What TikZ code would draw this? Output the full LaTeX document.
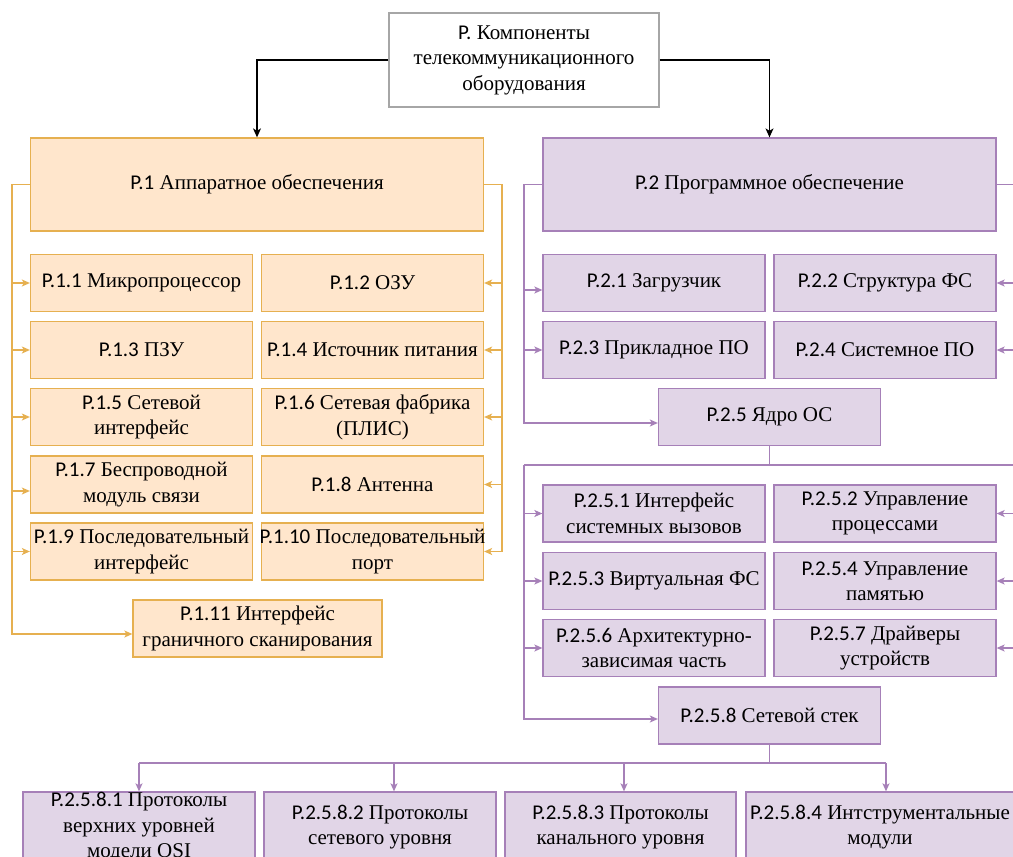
\documentclass[tikz,border=0pt]{standalone}
\usepackage{fontspec}
\setmainfont{Liberation Serif}
\newfontfamily\codefont{Carlito}
\usetikzlibrary{arrows.meta}
\newcommand\pc[1]{{\codefont #1}}
\newcommand\fitline[1]{\makebox[200pt][c]{#1}}
\definecolor{orgfill}{HTML}{FFE6CC}
\definecolor{orgline}{HTML}{E6B050}
\definecolor{purfill}{HTML}{E1D5E7}
\definecolor{purline}{HTML}{A680B8}
\definecolor{grayline}{HTML}{A6A6A6}
\begin{document}
\begin{tikzpicture}[x=1pt,y=-1pt,
  font=\fontsize{21}{25.5}\selectfont,
  box/.style={draw, line width=1.3pt, align=center, inner sep=0pt},
  hw/.style={box, fill=orgfill, draw=orgline},
  sw/.style={box, fill=purfill, draw=purline},
  rootbox/.style={box, fill=white, draw=grayline, line width=1.2pt},
  half/.style={minimum width=222pt, minimum height=57pt},
  wide/.style={minimum width=453pt, minimum height=93pt},
  blk/.style={draw=black, line width=1.2pt, -{Stealth[length=9pt,width=8pt,inset=2.5pt]}},
  ocon/.style={draw=orgline, line width=1.2pt},
  oarr/.style={ocon, -{Stealth[length=8pt,width=7pt,inset=2pt]}},
  pcon/.style={draw=purline, line width=1.2pt},
  parr/.style={pcon, -{Stealth[length=8pt,width=7pt,inset=2pt]}}
]
\path[use as bounding box, clip] (0,0) rectangle (1013,857);

% root
\node[rootbox, minimum width=270pt, minimum height=94pt] (root) at (524,60)
  {\pc{P.} Компоненты\\телекоммуникационного\\оборудования};

% hardware branch
\node[hw, wide] (p1) at (257,184.5) {\pc{P.1} Аппаратное обеспечения};
\node[hw, half] (p11) at (141.5,283) {\pc{P.1.1} Микропроцессор};
\node[hw, half] (p12) at (372.5,283) {\pc{P.1.2} ОЗУ};
\node[hw, half] (p13) at (141.5,350) {\pc{P.1.3} ПЗУ};
\node[hw, half] (p14) at (372.5,350) {\pc{P.1.4} Источник питания};
\node[hw, half] (p15) at (141.5,417) {\pc{P.1.5} Сетевой\\интерфейс};
\node[hw, half] (p16) at (372.5,417) {\pc{P.1.6} Сетевая фабрика\\(ПЛИС)};
\node[hw, half] (p17) at (141.5,484.5) {\pc{P.1.7} Беспроводной\\модуль связи};
\node[hw, half] (p18) at (372.5,484.5) {\pc{P.1.8} Антенна};
\node[hw, half] (p19) at (141.5,551.5) {\fitline{\pc{P.1.9} Последовательный}\\интерфейс};
\node[hw, half] (p110) at (372.5,551.5) {\fitline{\pc{P.1.10} Последовательный}\\порт};
\node[hw, minimum width=249pt, minimum height=57pt] (p111) at (257.5,628.5)
  {\pc{P.1.11} Интерфейс\\граничного сканирования};

% software branch
\node[sw, wide] (p2) at (769.5,184.5) {\pc{P.2} Программное обеспечение};
\node[sw, half] (p21) at (654,283) {\pc{P.2.1} Загрузчик};
\node[sw, half] (p22) at (885,283) {\pc{P.2.2} Структура ФС};
\node[sw, half] (p23) at (654,350) {\pc{P.2.3} Прикладное ПО};
\node[sw, half] (p24) at (885,350) {\pc{P.2.4} Системное ПО};
\node[sw, half] (p25) at (769.5,417) {\pc{P.2.5} Ядро ОС};
\node[sw, half] (p251) at (654,513.5) {\pc{P.2.5.1} Интерфейс\\системных вызовов};
\node[sw, half] (p252) at (885,513.5) {\pc{P.2.5.2} Управление\\процессами};
\node[sw, half] (p253) at (654,581) {\fitline{\pc{P.2.5.3} Виртуальная ФС}};
\node[sw, half] (p254) at (885,581) {\pc{P.2.5.4} Управление\\памятью};
\node[sw, half] (p256) at (654,648) {\pc{P.2.5.6} Архитектурно-\\зависимая часть};
\node[sw, half] (p257) at (885,648) {\pc{P.2.5.7} Драйверы\\устройств};
\node[sw, half] (p258) at (769.5,715.5) {\pc{P.2.5.8} Сетевой стек};

% network stack parts
\node[sw, minimum width=232pt, minimum height=70pt] (q1) at (139,827)
  {\pc{P.2.5.8.1} Протоколы\\верхних уровней\\модели OSI};
\node[sw, minimum width=232pt, minimum height=70pt] (q2) at (380,827)
  {\pc{P.2.5.8.2} Протоколы\\сетевого уровня};
\node[sw, minimum width=231pt, minimum height=70pt] (q3) at (620.5,827)
  {\pc{P.2.5.8.3} Протоколы\\канального уровня};
\node[sw, minimum width=268pt, minimum height=70pt] (q4) at (880,827)
  {\fitline{\pc{P.2.5.8.4} Интструментальные}\\модули};

% root connectors
\draw[blk] (root.west) -| (p1.north);
\draw[blk] (root.east) -| (p2.north);

% hardware buses
\coordinate (oL) at (12,184.5);
\coordinate (oR) at (502,184.5);
\coordinate (t111) at ([yshift=-5.5pt]p111.west);
\coordinate (t17) at ([yshift=-6.5pt]p17.west);
\draw[oarr] (p1.west) -- (oL) |- (t111);
\foreach \b in {p11,p13,p15,p19}
  \draw[oarr] (oL |- \b.west) -- (\b.west);
\draw[oarr] (oL |- t17) -- (t17);
\draw[oarr] (p1.east) -- (oR) |- (p110.east);
\foreach \b in {p12,p14,p16,p18}
  \draw[oarr] (oR |- \b.east) -- (\b.east);

% software buses
\coordinate (sL) at (524,184.5);
\coordinate (sR) at (1030,184.5);
\coordinate (t21) at ([yshift=-7pt]p21.west);
\coordinate (t25) at ([yshift=-6pt]p25.west);
\draw[parr] (p2.west) -- (sL) |- (t25);
\draw[parr] (sL |- t21) -- (t21);
\draw[parr] (sL |- p23.west) -- (p23.west);
\draw[pcon] (p2.east) -- (sR);
\draw[parr] (sR |- p22.east) -- (p22.east);
\draw[parr] (sR |- p24.east) -- (p24.east);

% kernel buses
\coordinate (kJ) at (769.5,465);
\coordinate (kL) at (524,465);
\coordinate (kR) at (1030,465);
\coordinate (t258) at ([yshift=-3.5pt]p258.west);
\draw[pcon] (p25.south) -- (kJ);
\draw[pcon] (kL) -- (kR);
\draw[parr] (kL) |- (t258);
\foreach \b in {p251,p253,p256}
  \draw[parr] (kL |- \b.west) -- (\b.west);
\foreach \b in {p252,p254,p257}
  \draw[parr] (kR |- \b.east) -- (\b.east);

% network stack bus
\coordinate (nJ) at (769.5,763);
\coordinate (nL) at (139,763);
\coordinate (nR) at (886,763);
\draw[pcon] (p258.south) -- (nJ);
\draw[pcon] (nL) -- (nR);
\coordinate (a2) at ([xshift=14pt]q2.north);
\coordinate (a3) at ([xshift=3.5pt]q3.north);
\coordinate (a4) at ([xshift=6pt]q4.north);
\draw[parr] (nL) -- (q1.north);
\draw[parr] (nL -| a2) -- (a2);
\draw[parr] (nL -| a3) -- (a3);
\draw[parr] (nR) -- (a4);
\end{tikzpicture}
\end{document}
